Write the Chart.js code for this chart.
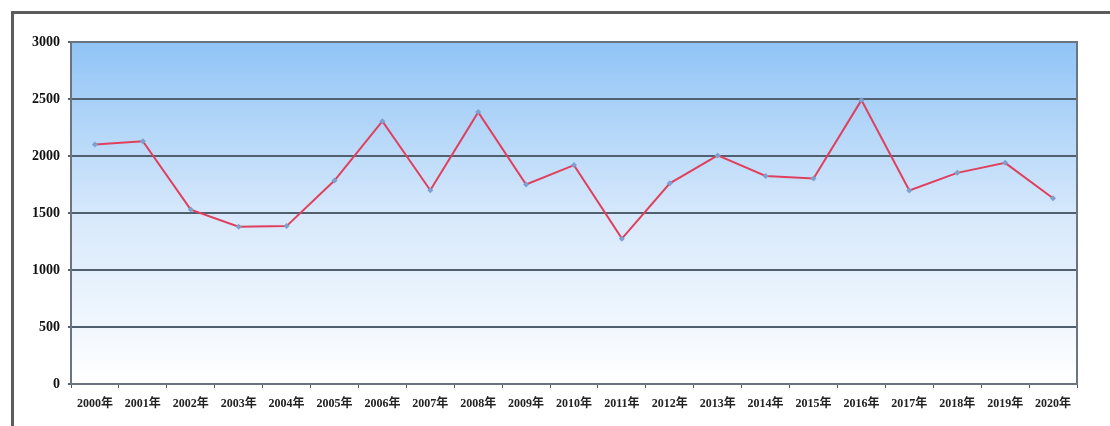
<!DOCTYPE html>
<html>
<head>
<meta charset="utf-8">
<script src="https://cdn.jsdelivr.net/npm/chart.js@4.4.0/dist/chart.umd.min.js"></script>
<style>
  html, body { margin: 0; padding: 0; background: #fff; }
  #wrap { position: relative; width: 1110px; height: 426px; }
</style>
</head>
<body>
<div id="wrap"><canvas id="grafico" width="1110" height="426"></canvas></div>
<script>
    const anios = ["2000年","2001年","2002年","2003年","2004年","2005年","2006年","2007年","2008年","2009年","2010年",
                   "2011年","2012年","2013年","2014年","2015年","2016年","2017年","2018年","2019年","2020年"];
    const valores = [2100, 2130, 1530, 1380, 1385, 1785, 2305, 1700, 2385, 1750, 1920,
                     1275, 1760, 2005, 1825, 1802, 2490, 1697, 1852, 1940, 1630];
    const ejeYMin = 0;
    const ejeYMax = 3000;
    const ejeYPaso = 500;

    const fuente = "'Liberation Serif', 'Times New Roman', 'Noto Sans CJK SC', serif";

    // fondo degradado del area del grafico + marco exterior
    const fondoPlugin = {
      id: 'fondo',
      beforeDraw(chart) {
        const {ctx, chartArea: a} = chart;
        ctx.save();
        ctx.fillStyle = '#fff';
        ctx.fillRect(0, 0, chart.width, chart.height);
        // marco (cortado a la derecha y abajo)
        ctx.fillStyle = '#5c5c5c';
        ctx.fillRect(11, 11, chart.width - 11, 3);
        ctx.fillRect(11, 11, 3, chart.height - 11);
        const g = ctx.createLinearGradient(0, a.top, 0, a.bottom);
        g.addColorStop(0, '#90c4f6');
        g.addColorStop(0.5, '#d6e8fb');
        g.addColorStop(1, '#ffffff');
        ctx.fillStyle = g;
        ctx.fillRect(a.left, a.top, a.right - a.left, a.bottom - a.top);
        ctx.restore();
      },
      afterDatasetsDraw(chart) {
        const {ctx, chartArea: a} = chart;
        ctx.save();
        ctx.strokeStyle = '#6a7580';
        ctx.lineWidth = 2;
        ctx.beginPath();
        ctx.moveTo(a.left, a.top);
        ctx.lineTo(a.right, a.top);
        ctx.lineTo(a.right, a.bottom);
        ctx.stroke();
        ctx.restore();
      }
    };

    const ctx = document.getElementById('grafico').getContext('2d');
    const grafico = new Chart(ctx, {
      type: 'line',
      data: {
        labels: anios,
        datasets: [{
          data: valores,
          borderColor: '#e0405e',
          borderWidth: 2,
          tension: 0,
          pointStyle: 'rectRot',
          pointRadius: 3,
          pointBackgroundColor: '#7f9fce',
          pointBorderColor: '#7f9fce',
          pointBorderWidth: 0
        }]
      },
      options: {
        responsive: false,
        animation: false,
        layout: { padding: { top: 42, right: 33, left: 0, bottom: 0 } },
        plugins: { legend: { display: false }, tooltip: { enabled: false } },
        scales: {
          x: {
            offset: true,
            grid: { offset: true, drawOnChartArea: false, drawTicks: true, tickLength: 4, color: '#555', lineWidth: 1 },
            border: { display: true, color: '#6a7580', width: 2 },
            ticks: { color: '#222', font: { family: fuente, size: 12, weight: 'bold' }, padding: 9, maxRotation: 0, autoSkip: false },
            afterFit(s) { s.height = 42; }
          },
          y: {
            min: ejeYMin, max: ejeYMax,
            grid: { color: '#50606e', lineWidth: 2, drawTicks: true, tickLength: 3 },
            border: { display: true, color: '#6a7580', width: 2 },
            ticks: {
              stepSize: ejeYPaso, color: '#111', font: { family: fuente, size: 14, weight: 'bold' }, padding: 8,
              callback: v => String(v)
            },
            afterFit(s) { s.width = 71; }
          }
        }
      },
      plugins: [fondoPlugin]
    });
</script>
</body>
</html>
